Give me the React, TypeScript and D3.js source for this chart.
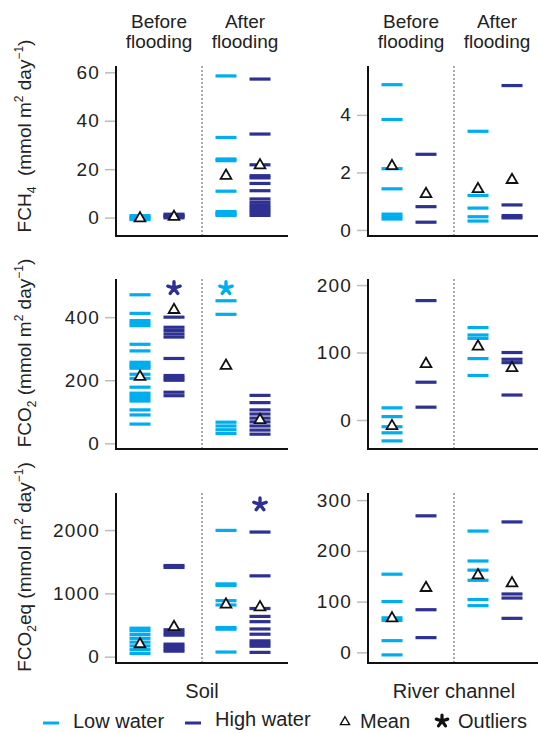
import React, { useEffect, useRef } from "react";
import * as d3 from "d3";

const LIGHT = "#00AEEF";
const DARK = "#2E3192";
const FONT = "'Liberation Sans', Arial, sans-serif";

const periods = ["Before", "After"];
const waters = ["Low water", "High water"];

// group order: before-low, before-high, after-low, after-high
const soilCH4 = [
  [0.8, 0.3, -0.3, -0.8],
  [1.4, 0.9, 0.4, -0.1],
  [58.5, 33.1, 24.2, 23.5, 10.9, 2.5, 1.8, 1.3, 0.9],
  [57.2, 34.5, 21.8, 17.3, 16.4, 14.1, 11.1, 7.7, 6.3, 5.0, 4.0, 3.0, 2.0, 0.9],
];
const soilCH4Means = [-0.3, 0.3, 17.3, 21.6];
const soilCH4Outliers: (number | null)[] = [null, null, null, null];

const riverCH4 = [
  [5.05, 3.84, 2.13, 1.43, 0.55, 0.46, 0.38],
  [2.63, 0.81, 0.27],
  [3.43, 1.2, 0.76, 0.46, 0.31],
  [5.02, 0.87, 0.5, 0.42],
];
const riverCH4Means = [2.22, 1.25, 1.42, 1.74];
const riverCH4Outliers: (number | null)[] = [null, null, null, null];

const soilCO2 = [
  [471, 412, 389, 381, 373, 314, 293, 257, 250, 244, 238, 219, 206, 178, 159, 151, 142, 134, 106, 90, 61],
  [400, 368, 358, 347, 337, 269, 215, 207, 200, 162, 151],
  [452, 409, 67, 55, 43, 31],
  [152, 129, 106, 93, 80, 68, 55, 42, 29],
];
const soilCO2Means = [211, 423, 246, 74];
const soilCO2Outliers: (number | null)[] = [null, 492, 492, null];

const riverCO2 = [
  [18, 5, -10, -19, -31],
  [177, 56, 19],
  [137, 126, 121, 91, 66],
  [100, 90, 85, 37],
];
const riverCO2Means = [-9, 83, 109, 77];
const riverCO2Outliers: (number | null)[] = [null, null, null, null];

const soilCO2eq = [
  [450, 410, 350, 290, 230, 170, 110, 50],
  [1440, 1410, 425, 380, 340, 198, 160, 120, 87],
  [1995, 1150, 1125, 885, 817, 461, 434, 73],
  [1969, 1277, 761, 636, 553, 438, 355, 250, 208, 165, 68],
];
const soilCO2eqMeans = [198, 469, 823, 781];
const soilCO2eqOutliers: (number | null)[] = [null, null, null, 2406];

const riverCO2eq = [
  [154, 100, 68, 63, 23, -5],
  [269, 84, 29],
  [239, 180, 162, 142, 104, 92],
  [257, 115, 107, 67],
];
const riverCO2eqMeans = [67, 127, 152, 136];
const riverCO2eqOutliers: (number | null)[] = [null, null, null, null];

const colTitles = ["Soil", "River channel"];

type Seg = { t: string; sub?: boolean; sup?: boolean };
const rowLabels: Seg[][] = [
  [{ t: "FCH" }, { t: "4", sub: true }, { t: "\u00A0\u00A0(mmol m" }, { t: "2", sup: true }, { t: " day" }, { t: "\u22121", sup: true }, { t: ")" }],
  [{ t: "FCO" }, { t: "2", sub: true }, { t: " (mmol m" }, { t: "2", sup: true }, { t: " day" }, { t: "\u22121", sup: true }, { t: ")" }],
  [{ t: "FCO" }, { t: "2", sub: true }, { t: "eq (mmol m" }, { t: "2", sup: true }, { t: " day" }, { t: "\u22121", sup: true }, { t: ")" }],
];

const panels = [
  { row: 0, col: 0, groups: soilCH4, means: soilCH4Means, outliers: soilCH4Outliers, domain: [-7.6, 62.6], ticks: [0, 20, 40, 60] },
  { row: 0, col: 1, groups: riverCH4, means: riverCH4Means, outliers: riverCH4Outliers, domain: [-0.21, 5.7], ticks: [0, 2, 4] },
  { row: 1, col: 0, groups: soilCO2, means: soilCO2Means, outliers: soilCO2Outliers, domain: [-18, 521], ticks: [0, 200, 400] },
  { row: 1, col: 1, groups: riverCO2, means: riverCO2Means, outliers: riverCO2Outliers, domain: [-43, 209], ticks: [0, 100, 200] },
  { row: 2, col: 0, groups: soilCO2eq, means: soilCO2eqMeans, outliers: soilCO2eqOutliers, domain: [-100, 2586], ticks: [0, 1000, 2000] },
  { row: 2, col: 1, groups: riverCO2eq, means: riverCO2eqMeans, outliers: riverCO2eqOutliers, domain: [-21, 314], ticks: [0, 100, 200, 300] },
];

function asteriskPath(cx: number, cy: number, r: number) {
  const p = d3.path();
  for (let k = 0; k < 5; k++) {
    const a = -Math.PI / 2 + (k * 2 * Math.PI) / 5;
    p.moveTo(cx, cy);
    p.lineTo(cx + r * Math.cos(a), cy + r * Math.sin(a));
  }
  return p.toString();
}

export default function App() {
  const svgRef = useRef<SVGSVGElement>(null);

  useEffect(() => {
    const svg = d3.select(svgRef.current);
    svg.selectAll("*").remove();

    const colX = [116, 368];
    const rowTop = [66, 279, 493];
    const panelH = 170;
    const panelW = 172;

    const period = d3.scaleBand().domain(periods).range([0, panelW]);
    const water = d3.scalePoint().domain(waters).range([24, 58]);
    const gx = (i: number) => (period(periods[i < 2 ? 0 : 1]) ?? 0) + (water(waters[i % 2]) ?? 0);
    const tri = d3.symbol(d3.symbolTriangle, 50);

    // column headers
    colX.forEach((x0) => {
      periods.forEach((p) => {
        const cx = x0 + (period(p) ?? 0) + period.bandwidth() / 2;
        const t = svg.append("text")
          .attr("text-anchor", "middle")
          .attr("font-family", FONT)
          .attr("font-size", 19)
          .attr("fill", "#222");
        t.append("tspan").attr("x", cx).attr("y", 28).text(p);
        t.append("tspan").attr("x", cx).attr("y", 48).text("flooding");
      });
    });

    // row labels
    const labelY = [136, 353, 567];
    rowLabels.forEach((segs, r) => {
      const t = svg.append("text")
        .attr("transform", `translate(31,${labelY[r]}) rotate(-90)`)
        .attr("text-anchor", "middle")
        .attr("font-family", FONT)
        .attr("font-size", 19)
        .attr("fill", "#222");
      let shift = 0;
      segs.forEach((s) => {
        const target = s.sub ? 5 : s.sup ? -8 : 0;
        t.append("tspan")
          .attr("dy", target - shift)
          .attr("font-size", s.sub || s.sup ? 12 : 19)
          .text(s.t);
        shift = target;
      });
    });

    panels.forEach((p) => {
      const x0 = colX[p.col];
      const top = rowTop[p.row];
      const bottom = top + panelH;
      const y = d3.scaleLinear().domain(p.domain).range([bottom, top]);
      const g = svg.append("g").attr("transform", `translate(${x0},0)`);

      const ax = g.append("g").call(
        d3.axisLeft(y).tickValues(p.ticks).tickSize(11).tickPadding(5).tickFormat(d3.format("d"))
      );
      ax.select(".domain").remove();
      ax.selectAll("line").attr("stroke", "#bdbdbd").attr("stroke-width", 1.5);
      ax.selectAll("text")
        .attr("font-size", 19)
        .attr("font-family", FONT)
        .attr("fill", "#222")
        .style("letter-spacing", "1.2px");

      // divider
      g.append("line")
        .attr("x1", period.bandwidth()).attr("x2", period.bandwidth())
        .attr("y1", top).attr("y2", bottom)
        .attr("stroke", "#555").attr("stroke-width", 1).attr("stroke-dasharray", "2,2");

      // individual values
      p.groups.forEach((vals, i) => {
        const cx = gx(i);
        g.append("g").selectAll("rect").data(vals).join("rect")
          .attr("x", cx - 10.5)
          .attr("width", 21)
          .attr("y", (d) => y(d) - 1.6)
          .attr("height", 3.2)
          .attr("fill", i % 2 ? DARK : LIGHT);
      });

      // means
      g.append("g").selectAll("path").data(p.means).join("path")
        .attr("d", tri)
        .attr("transform", (d, i) => `translate(${gx(i)},${y(d)})`)
        .attr("fill", "white")
        .attr("stroke", "#111")
        .attr("stroke-width", 1.8);

      // outliers
      p.outliers.forEach((v, i) => {
        if (v == null) return;
        g.append("path")
          .attr("d", asteriskPath(gx(i), y(v), 6.5))
          .attr("stroke", i % 2 ? DARK : LIGHT)
          .attr("stroke-width", 3.4)
          .attr("stroke-linecap", "round")
          .attr("fill", "none");
      });

      // axes
      g.append("line").attr("x1", 0).attr("x2", 0).attr("y1", top).attr("y2", bottom + 1)
        .attr("stroke", "#111").attr("stroke-width", 2);
      g.append("line").attr("x1", 0).attr("x2", panelW).attr("y1", bottom).attr("y2", bottom)
        .attr("stroke", "#111").attr("stroke-width", 2);
    });

    // column titles
    colTitles.forEach((t, c) => {
      svg.append("text")
        .attr("x", colX[c] + panelW / 2)
        .attr("y", 698)
        .attr("text-anchor", "middle")
        .attr("font-family", FONT)
        .attr("font-size", 20)
        .attr("fill", "#222")
        .text(t);
    });

    // legend
    const leg = svg.append("g").attr("font-family", FONT).attr("font-size", 20).attr("fill", "#222");
    const ly = 728;
    [LIGHT, DARK].forEach((col, i) => {
      const lx = i === 0 ? 43 : 185;
      leg.append("line").attr("x1", lx).attr("x2", lx + 16).attr("y1", ly - 5).attr("y2", ly - 5)
        .attr("stroke", col).attr("stroke-width", 3);
      leg.append("text").attr("x", lx + 30).attr("y", ly - (i === 1 ? 2 : 0)).text(waters[i]);
    });
    leg.append("path").attr("d", d3.symbol(d3.symbolTriangle, 36)())
      .attr("transform", `translate(345,${ly - 6})`)
      .attr("fill", "white").attr("stroke", "#111").attr("stroke-width", 1.4);
    leg.append("text").attr("x", 360).attr("y", ly).text("Mean");
    leg.append("path").attr("d", asteriskPath(442, ly - 7, 6))
      .attr("stroke", "#111").attr("stroke-width", 3.2).attr("stroke-linecap", "round");
    leg.append("text").attr("x", 458).attr("y", ly).text("Outliers");
  }, []);

  return (
    <svg
      ref={svgRef}
      width={538}
      height={733}
      style={{ position: "absolute", left: 0, top: 0, background: "white" }}
    />
  );
}
